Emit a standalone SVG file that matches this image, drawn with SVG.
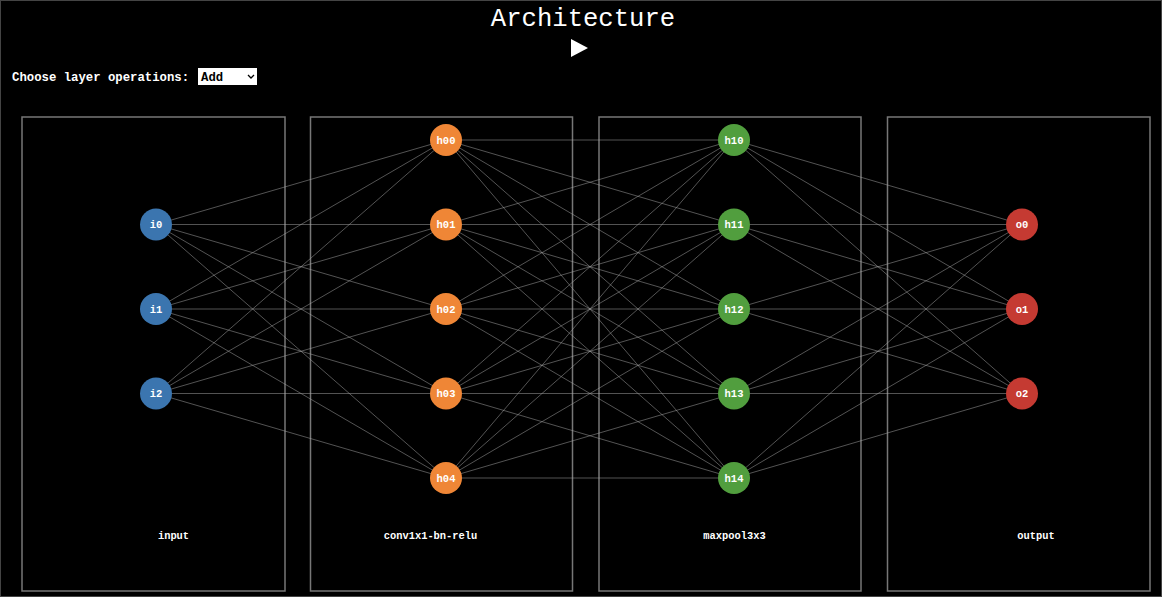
<svg xmlns="http://www.w3.org/2000/svg" width="1162" height="597" viewBox="0 0 1162 597">
<style>
.frame{fill:none;stroke:#777;stroke-width:1.5}
.edge{stroke:#aaa;stroke-opacity:0.55;stroke-width:0.9}
.nl{font-family:"Liberation Mono","Courier New",monospace;font-weight:bold;font-size:10.5px;fill:#fff;text-anchor:middle}
.ll{font-family:"Liberation Mono","Courier New",monospace;font-weight:bold;font-size:10.4px;fill:#fff;text-anchor:middle}
.in{fill:#3b75af}.hA{fill:#ef8636}.hB{fill:#519e3e}.out{fill:#c53a32}
</style>
<rect x="0" y="0" width="1162" height="597" fill="#000"/>
<rect x="0.5" y="0.5" width="1161" height="596" fill="none" stroke="#444" stroke-width="1"/>
<text x="583" y="26" font-family="Liberation Mono,'Courier New',monospace" font-size="25.6" fill="#fff" text-anchor="middle">Architecture</text>
<polygon points="571,39 588,48 571,57" fill="#fff"/>
<text x="12" y="81" font-family="Liberation Mono,'Courier New',monospace" font-weight="bold" font-size="12.3" fill="#fff">Choose layer operations:</text>
<g id="select">
<rect x="198" y="68" width="59" height="17" fill="#fff"/>
<text x="201" y="81" font-family="Liberation Mono,'Courier New',monospace" font-weight="bold" font-size="12.3" fill="#000">Add</text>
<polyline points="248,75 251,78 254,75" fill="none" stroke="#000" stroke-width="1.3"/>
</g>
<g id="layers">
<g id="layer-input"><rect class="frame" x="22" y="117" width="263" height="474"/><text class="ll" x="173.5" y="539">input</text></g>
<g id="layer-conv"><rect class="frame" x="310.5" y="117" width="262" height="474"/><text class="ll" x="430.5" y="539">conv1x1-bn-relu</text></g>
<g id="layer-maxpool"><rect class="frame" x="599" y="117" width="262" height="474"/><text class="ll" x="734.5" y="539">maxpool3x3</text></g>
<g id="layer-output"><rect class="frame" x="887.5" y="117" width="262.5" height="474"/><text class="ll" x="1036" y="539">output</text></g>
</g>
<g id="connectors">
<line class="edge" x1="156" y1="224.5" x2="446" y2="140"/><line class="edge" x1="156" y1="224.5" x2="446" y2="224.5"/><line class="edge" x1="156" y1="224.5" x2="446" y2="309"/><line class="edge" x1="156" y1="224.5" x2="446" y2="393.5"/><line class="edge" x1="156" y1="224.5" x2="446" y2="478"/>
<line class="edge" x1="156" y1="309" x2="446" y2="140"/><line class="edge" x1="156" y1="309" x2="446" y2="224.5"/><line class="edge" x1="156" y1="309" x2="446" y2="309"/><line class="edge" x1="156" y1="309" x2="446" y2="393.5"/><line class="edge" x1="156" y1="309" x2="446" y2="478"/>
<line class="edge" x1="156" y1="393.5" x2="446" y2="140"/><line class="edge" x1="156" y1="393.5" x2="446" y2="224.5"/><line class="edge" x1="156" y1="393.5" x2="446" y2="309"/><line class="edge" x1="156" y1="393.5" x2="446" y2="393.5"/><line class="edge" x1="156" y1="393.5" x2="446" y2="478"/>
<line class="edge" x1="446" y1="140" x2="734" y2="140"/><line class="edge" x1="446" y1="140" x2="734" y2="224.5"/><line class="edge" x1="446" y1="140" x2="734" y2="309"/><line class="edge" x1="446" y1="140" x2="734" y2="393.5"/><line class="edge" x1="446" y1="140" x2="734" y2="478"/>
<line class="edge" x1="446" y1="224.5" x2="734" y2="140"/><line class="edge" x1="446" y1="224.5" x2="734" y2="224.5"/><line class="edge" x1="446" y1="224.5" x2="734" y2="309"/><line class="edge" x1="446" y1="224.5" x2="734" y2="393.5"/><line class="edge" x1="446" y1="224.5" x2="734" y2="478"/>
<line class="edge" x1="446" y1="309" x2="734" y2="140"/><line class="edge" x1="446" y1="309" x2="734" y2="224.5"/><line class="edge" x1="446" y1="309" x2="734" y2="309"/><line class="edge" x1="446" y1="309" x2="734" y2="393.5"/><line class="edge" x1="446" y1="309" x2="734" y2="478"/>
<line class="edge" x1="446" y1="393.5" x2="734" y2="140"/><line class="edge" x1="446" y1="393.5" x2="734" y2="224.5"/><line class="edge" x1="446" y1="393.5" x2="734" y2="309"/><line class="edge" x1="446" y1="393.5" x2="734" y2="393.5"/><line class="edge" x1="446" y1="393.5" x2="734" y2="478"/>
<line class="edge" x1="446" y1="478" x2="734" y2="140"/><line class="edge" x1="446" y1="478" x2="734" y2="224.5"/><line class="edge" x1="446" y1="478" x2="734" y2="309"/><line class="edge" x1="446" y1="478" x2="734" y2="393.5"/><line class="edge" x1="446" y1="478" x2="734" y2="478"/>
<line class="edge" x1="734" y1="140" x2="1022" y2="224.5"/><line class="edge" x1="734" y1="140" x2="1022" y2="309"/><line class="edge" x1="734" y1="140" x2="1022" y2="393.5"/>
<line class="edge" x1="734" y1="224.5" x2="1022" y2="224.5"/><line class="edge" x1="734" y1="224.5" x2="1022" y2="309"/><line class="edge" x1="734" y1="224.5" x2="1022" y2="393.5"/>
<line class="edge" x1="734" y1="309" x2="1022" y2="224.5"/><line class="edge" x1="734" y1="309" x2="1022" y2="309"/><line class="edge" x1="734" y1="309" x2="1022" y2="393.5"/>
<line class="edge" x1="734" y1="393.5" x2="1022" y2="224.5"/><line class="edge" x1="734" y1="393.5" x2="1022" y2="309"/><line class="edge" x1="734" y1="393.5" x2="1022" y2="393.5"/>
<line class="edge" x1="734" y1="478" x2="1022" y2="224.5"/><line class="edge" x1="734" y1="478" x2="1022" y2="309"/><line class="edge" x1="734" y1="478" x2="1022" y2="393.5"/>
</g>
<g id="i0"><circle class="in" cx="156" cy="224.5" r="16"/><text class="nl" x="156" y="228">i0</text></g>
<g id="i1"><circle class="in" cx="156" cy="309" r="16"/><text class="nl" x="156" y="312.5">i1</text></g>
<g id="i2"><circle class="in" cx="156" cy="393.5" r="16"/><text class="nl" x="156" y="397">i2</text></g>
<g id="h00"><circle class="hA" cx="446" cy="140" r="16"/><text class="nl" x="446" y="143.5">h00</text></g>
<g id="h01"><circle class="hA" cx="446" cy="224.5" r="16"/><text class="nl" x="446" y="228">h01</text></g>
<g id="h02"><circle class="hA" cx="446" cy="309" r="16"/><text class="nl" x="446" y="312.5">h02</text></g>
<g id="h03"><circle class="hA" cx="446" cy="393.5" r="16"/><text class="nl" x="446" y="397">h03</text></g>
<g id="h04"><circle class="hA" cx="446" cy="478" r="16"/><text class="nl" x="446" y="481.5">h04</text></g>
<g id="h10"><circle class="hB" cx="734" cy="140" r="16"/><text class="nl" x="734" y="143.5">h10</text></g>
<g id="h11"><circle class="hB" cx="734" cy="224.5" r="16"/><text class="nl" x="734" y="228">h11</text></g>
<g id="h12"><circle class="hB" cx="734" cy="309" r="16"/><text class="nl" x="734" y="312.5">h12</text></g>
<g id="h13"><circle class="hB" cx="734" cy="393.5" r="16"/><text class="nl" x="734" y="397">h13</text></g>
<g id="h14"><circle class="hB" cx="734" cy="478" r="16"/><text class="nl" x="734" y="481.5">h14</text></g>
<g id="o0"><circle class="out" cx="1022" cy="224.5" r="16"/><text class="nl" x="1022" y="228">o0</text></g>
<g id="o1"><circle class="out" cx="1022" cy="309" r="16"/><text class="nl" x="1022" y="312.5">o1</text></g>
<g id="o2"><circle class="out" cx="1022" cy="393.5" r="16"/><text class="nl" x="1022" y="397">o2</text></g>
</svg>
